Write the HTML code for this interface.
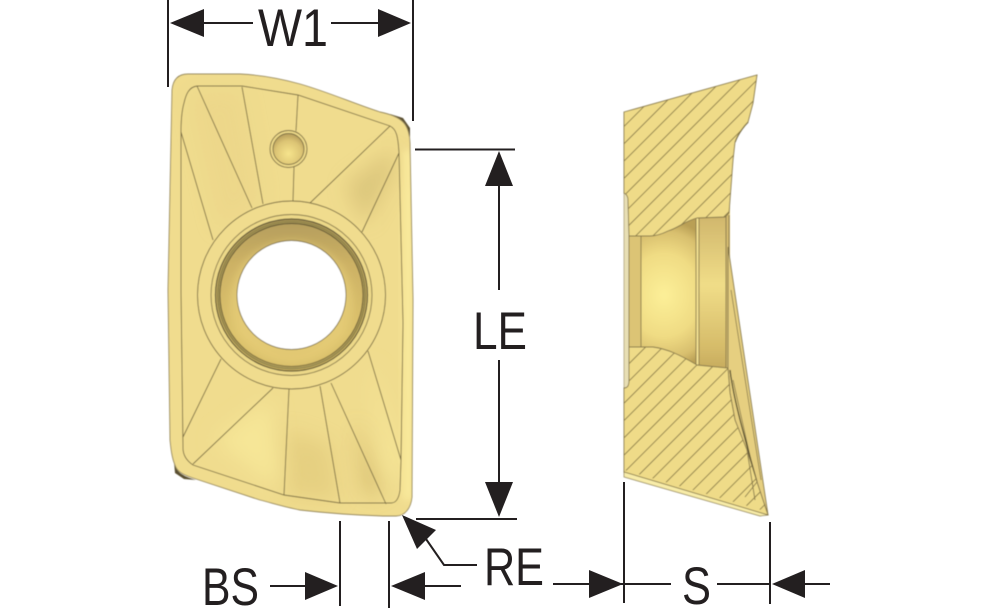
<!DOCTYPE html>
<html>
<head>
<meta charset="utf-8">
<style>
html,body{margin:0;padding:0;background:#fff;width:1000px;height:611px;overflow:hidden}
svg{display:block}
text{font-family:"Liberation Sans Narrow","Liberation Sans",sans-serif;fill:#231f20;font-size:53px}
</style>
</head>
<body>
<svg width="1000" height="611" viewBox="0 0 1000 611" xmlns="http://www.w3.org/2000/svg">
<defs>
<clipPath id="body"><path id="bp" d="M172 90C173 79 179 74 188 74L240 74C262 75 282 79 300 84C328 92 355 104 380 112C390 114 398 117 403 122C408 127 410 136 410 143L413 300L412 497C411 508 405 516 396 516L383 516C352 515 326 513 300 510C285 507 272 503 260 500L193 478C184 475 177 472 175 465C172 458 171 450 170 440L168 290Z"/></clipPath>
<filter id="b8" x="-50%" y="-50%" width="200%" height="200%"><feGaussianBlur stdDeviation="10"/></filter>
<filter id="b4" x="-50%" y="-50%" width="200%" height="200%"><feGaussianBlur stdDeviation="4"/></filter>
<filter id="soft" x="-5%" y="-5%" width="110%" height="110%"><feGaussianBlur stdDeviation=".4"/></filter>
<pattern id="hatch" patternUnits="userSpaceOnUse" width="12.233" height="12.233" patternTransform="translate(5.9 0) rotate(45)">
<rect x="0" y="0" width=".9" height="12.233" fill="#877845"/>
</pattern>
<radialGradient id="bore" gradientUnits="userSpaceOnUse" cx="664" cy="295" r="75" gradientTransform="translate(664 295) scale(.85 1) translate(-664 -295)">
<stop offset="0" stop-color="#fcef98"/><stop offset=".55" stop-color="#f0dc84"/><stop offset=".85" stop-color="#d8bf6e"/><stop offset="1" stop-color="#b99f55"/>
</radialGradient>
<linearGradient id="bore2" x1="0" y1="0" x2="0" y2="1">
<stop offset="0" stop-color="#d0b66c"/><stop offset=".45" stop-color="#f0dd88"/><stop offset=".85" stop-color="#d6bc6a"/><stop offset="1" stop-color="#c6ab5e"/>
</linearGradient>
<linearGradient id="ring" x1="0" y1="0" x2="0" y2="1">
<stop offset="0" stop-color="#b39c5c"/><stop offset=".3" stop-color="#cdb265"/><stop offset=".75" stop-color="#dcc26c"/><stop offset="1" stop-color="#d6bb66"/>
</linearGradient>
<radialGradient id="bump" cx=".5" cy=".65" r=".6">
<stop offset="0" stop-color="#f6e48c"/><stop offset=".7" stop-color="#dcc474"/><stop offset="1" stop-color="#bda460"/>
</radialGradient>
</defs>

<g filter="url(#soft)">
<!-- corner chips -->
<path d="M390 114L403 118L410 128L410 140L404 124Z" fill="#5a5030"/>
<path d="M174 462C176 472 182 476 196 480L184 479L175 473Z" fill="#5a5030"/>

<!-- front view body -->
<g clip-path="url(#body)">
<rect x="160" y="60" width="260" height="465" fill="#f0dc8e"/>
<path d="M345 185L392 150L395 170L365 225Z" fill="#d9c379" filter="url(#b8)" opacity=".85"/>
<path d="M403 150L413 150L413 500L403 500Z" fill="#faea9c" filter="url(#b4)"/>
<path d="M355 420L385 490L365 495Z" fill="#cdb468" filter="url(#b8)" opacity=".7"/>
<path d="M285 430L330 445L338 500L285 495Z" fill="#e0c97a" filter="url(#b8)" opacity=".65"/>
<path d="M215 440L270 400L280 490Z" fill="#f6e697" filter="url(#b8)"/>
<path d="M370 360L400 460L395 500L385 470Z" fill="#f7e798" filter="url(#b8)"/>
<path d="M190 95L240 90L260 200L220 230Z" fill="#ead488" filter="url(#b8)" opacity=".6"/>
</g>
<use href="#bp" fill="none" stroke="#94865a" stroke-width=".9"/>

<!-- inner contour and radial lines -->
<g fill="none" stroke="#7a6d42" stroke-width=".9">
<path d="M181 290L181 132C181 118 182 110 184 103C186 94 189 87 197 86L242 86L298 95L390 126C396 129 398 135 399 153L403 323L401 460L400 490C399 498 396 503 391 503L340 503L284 495L193 465C187 461 183 456 183 448L181 290Z"/>
<path d="M197 86L252 208M242 87L263 204M298 95L296 131M294 167L293 201M390 126L310 203M399 153L362 232M181 132L213 240"/>
<path d="M221 359L183 437M273 388L193 464M289 389L284 495M320 386L340 503M331 383L386 504M368 351L401 460"/>
</g>

<!-- ring and hole -->
<circle cx="291.500" cy="295" r="94" fill="#f0dc8e" stroke="#7a6d42" stroke-width=".9"/>
<circle cx="291.500" cy="295" r="80.500" fill="#ecd888" stroke="#85774a" stroke-width=".9"/>
<circle cx="291.500" cy="295" r="76" fill="url(#ring)" stroke="#5f5534" stroke-width="1.2"/>
<circle cx="291.500" cy="295" r="73.500" fill="none" stroke="#97884e" stroke-width="2.5"/>
<circle cx="291.500" cy="295" r="71.500" fill="none" stroke="#5c5230" stroke-width=".9"/>
<circle cx="291.500" cy="303" r="62" fill="#e9d07a" filter="url(#b4)" opacity=".6"/>
<circle cx="291.500" cy="295" r="54.500" fill="#fff" stroke="#85774a" stroke-width=".9"/>

<!-- bump -->
<circle cx="288.500" cy="149" r="18.500" fill="#ecd888" stroke="#7a6d42" stroke-width=".9"/>
<circle cx="288.500" cy="149" r="15.500" fill="url(#bump)" stroke="#7a6d42" stroke-width=".9"/>

<!-- side view -->
<rect x="624" y="190" width="106" height="200" fill="#e8d27c"/>
<rect x="624" y="193" width="5" height="196" fill="#e8dfb4" stroke="#94865a" stroke-width=".6"/>
<rect x="629" y="230" width="12" height="125" fill="#dcc474"/>
<rect x="641" y="215" width="56" height="160" fill="url(#bore)"/>
<rect x="699" y="215" width="27" height="155" fill="url(#bore2)"/>
<rect x="696" y="215" width="3" height="155" fill="#f1df90"/>
<rect x="726" y="215" width="4" height="155" fill="#d4bb70"/>
<g stroke="#85774a" stroke-width=".9" fill="none">
<path d="M629 230V350M641 230V350M696 215V368M699 215V368M726 215V368M729 215V370"/>
</g>

<!-- wedge on right -->
<path d="M728 247L768 515L757 482L735 420L730 393L728 368Z" fill="#e6cf80" stroke="#85774a" stroke-width=".9"/>
<path d="M731 290L761 480M733 380L752 465" fill="none" stroke="#85774a" stroke-width=".8"/>
<path d="M730 370C733 395 741 425 757 482" fill="none" stroke="#4a4326" stroke-width="1.2"/>
<path d="M748 122C742 128 737 136 735 142" fill="none" stroke="#4a4326" stroke-width="1.5"/>

<!-- top hatched section -->
<path d="M624 112L757 75L753 103L748 122C742 128 737 136 735 142L733 160L729 213L725 217L697 218C685 221 678 228 668 231C660 235 655 236 650 236L629 236L628 200C628 196 626 194 624 193Z" fill="#efdb88" stroke="#85774a" stroke-width=".9"/>
<path d="M624 112L757 75L753 103L748 122C742 128 737 136 735 142L733 160L729 213L725 217L697 218C685 221 678 228 668 231C660 235 655 236 650 236L629 236L628 200C628 196 626 194 624 193Z" fill="url(#hatch)"/>

<!-- bottom hatched section -->
<path d="M629 347L653 347C668 349 680 355 697 365L728 368L730 393L735 420L747 450L757 482L768 515L624 472L624 388C628 388 629 385 629 380Z" fill="#efdb88" stroke="#85774a" stroke-width=".9"/>
<path d="M629 347L653 347C668 349 680 355 697 365L728 368L730 393L735 420L747 450L757 482L768 512L624 470L624 388C628 388 629 385 629 380Z" fill="url(#hatch)"/>
<path d="M624 472L768 515L760 516L624 477Z" fill="#f8eca8" stroke="#85774a" stroke-width=".7"/>
<path d="M747 450L755 500M757 482L745 497" fill="none" stroke="#85774a" stroke-width=".9"/>
</g>

<!-- dimension lines -->
<g stroke="#231f20" stroke-width="2" fill="none">
<path d="M168 0V87M413 0V121"/>
<path d="M204 23H253M331 23H378"/>
<path d="M415 149.500H515M416 519H517"/>
<path d="M499 186V290M499 360V482"/>
<path d="M340 521V606M389 521V608"/>
<path d="M270 586H305M425 586H461"/>
<path d="M426 539L444 565H477"/>
<path d="M553 584H589M624 482V603M624 584H671M617 584H624"/>
<path d="M717 584H769M770 522V604M805 584H830"/>
</g>
<g fill="#231f20">
<path d="M170 23L204 9V37Z"/>
<path d="M411 23L378 9V37Z"/>
<path d="M499 151L485 186H513Z"/>
<path d="M499 517L485 482H513Z"/>
<path d="M338 586L305 572V600Z"/>
<path d="M391 586L425 572V600Z"/>
<path d="M402 515L436 530L417 549Z"/>
<path d="M623 584L589 570V598Z"/>
<path d="M772 584L805 570V598Z"/>
</g>

<!-- labels -->
<text x="258" y="46" textLength="70" lengthAdjust="spacingAndGlyphs">W1</text>
<text x="473" y="349" textLength="54" lengthAdjust="spacingAndGlyphs">LE</text>
<text x="202" y="605" textLength="57" lengthAdjust="spacingAndGlyphs">BS</text>
<text x="484" y="585" textLength="60" lengthAdjust="spacingAndGlyphs">RE</text>
<text x="682" y="604" textLength="29" lengthAdjust="spacingAndGlyphs">S</text>
</svg>
</body>
</html>
